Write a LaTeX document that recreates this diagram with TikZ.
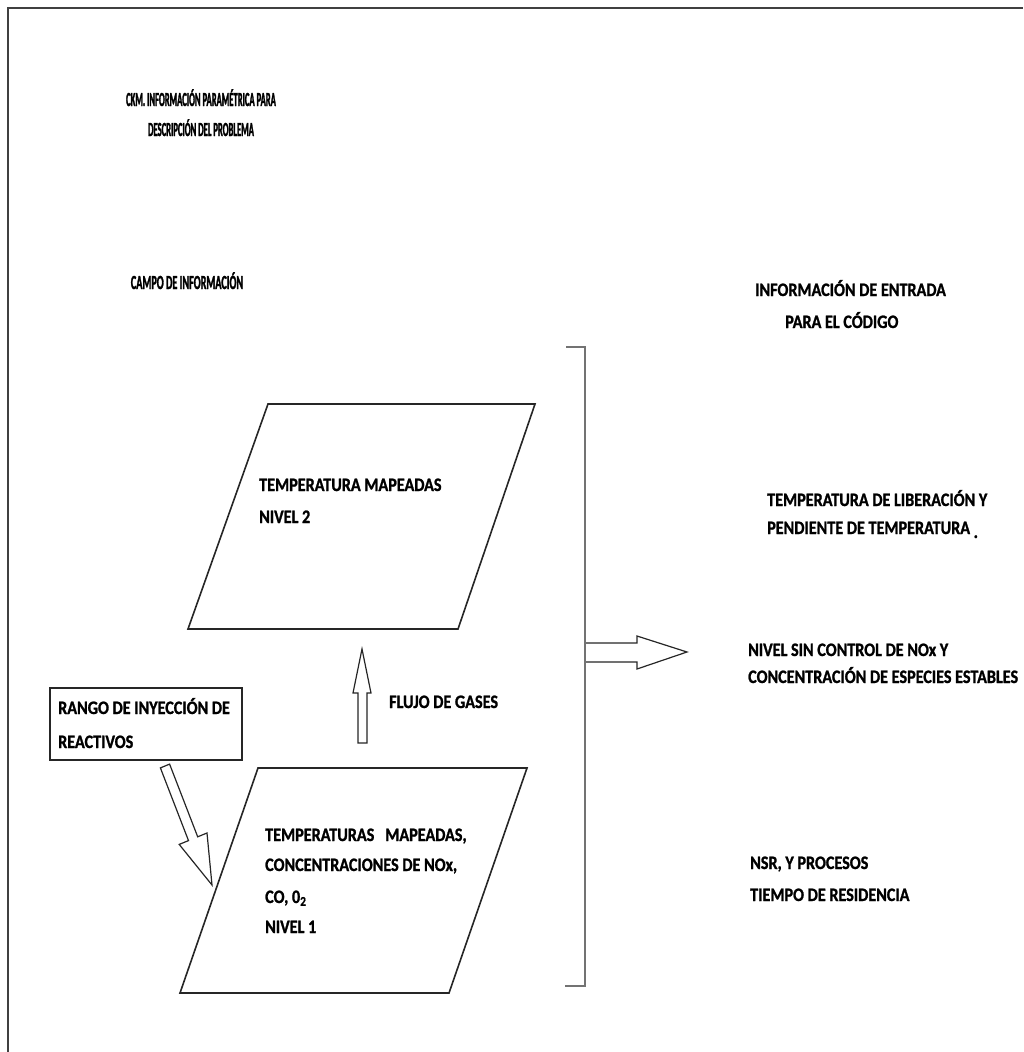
\documentclass[tikz,border=0pt]{standalone}
\usepackage{fontspec}
\newfontfamily\cfa{Carlito}[FakeStretch=0.85, BoldFeatures={FakeBold=1.2}]
\newfontfamily\cft{Carlito}[FakeStretch=0.43, BoldFeatures={FakeBold=1.4}]
\newfontfamily\cfc{Carlito}[FakeStretch=0.51, BoldFeatures={FakeBold=1.4}]
\usetikzlibrary{calc}
\tikzset{
  txt/.style={font=\cfa\bfseries\fontsize{19}{21}\selectfont, inner sep=0pt, anchor=base west, text=black},
  ttl/.style={font=\cft\bfseries\fontsize{20}{22}\selectfont, inner sep=0pt, anchor=base, text=black},
  ttlc/.style={font=\cfc\bfseries\fontsize{20}{22}\selectfont, inner sep=0pt, anchor=base, text=black},
  frame/.style={draw=black!75, line width=2.2pt},
  para/.style={draw=black!85, line width=1.6pt, line join=miter},
  brk/.style={draw=black!55, line width=2.2pt},
  blk/.style={draw=black!85, line width=1.2pt, fill=white, line join=miter},
  rbox/.style={draw=black!85, line width=1.6pt}
}
\begin{document}
\begin{tikzpicture}[x=1pt,y=-1pt]
\useasboundingbox (0,0) rectangle (1023,1052);
% frame (top and left)
\draw[frame] (8,1052) -- (8,8) -- (1023,8);
% titles
\node[ttl] (t1) at (201,106) {CKM. INFORMACIÓN PARAMÉTRICA PARA};
\node[ttl] (t2) at (201,136) {DESCRIPCIÓN DEL PROBLEMA};
\node[ttlc] (campo) at (187,289) {CAMPO DE INFORMACIÓN};
% right side
\node[txt] (ie1) at (755,296) {INFORMACIÓN DE ENTRADA};
\node[txt] (ie2) at (785,328) {PARA EL CÓDIGO};
\node[txt] (tl1) at (767,506) {TEMPERATURA DE LIBERACIÓN Y};
\node[txt] (tl2) at (767,534) {PENDIENTE DE TEMPERATURA \raisebox{-4pt}{.}};
\node[txt] (ns1) at (748,656) {NIVEL SIN CONTROL DE NOx Y};
\node[txt] (ns2) at (748,683) {CONCENTRACIÓN DE ESPECIES ESTABLES};
\node[txt] (nr1) at (750,869) {NSR, Y PROCESOS};
\node[txt] (nr2) at (750,901) {TIEMPO DE RESIDENCIA};
% bracket
\draw[brk] (566,347) -- (585,347) -- (585,986) -- (565,986);
% top parallelogram
\coordinate (p2a) at (268,404);
\coordinate (p2b) at (535,404);
\coordinate (p2c) at (458,629);
\coordinate (p2d) at (188,629);
\draw[para] (p2a) -- (p2b) -- (p2c) -- (p2d) -- cycle;
\node[txt] (n2a) at (259,491) {TEMPERATURA MAPEADAS};
\node[txt] (n2b) at (259,523) {NIVEL 2};
% bottom parallelogram
\coordinate (p1a) at (258,768);
\coordinate (p1b) at (527,768);
\coordinate (p1c) at (449,993);
\coordinate (p1d) at (180,993);
\draw[para] (p1a) -- (p1b) -- (p1c) -- (p1d) -- cycle;
\node[txt] (n1a) at (265,841) {TEMPERATURAS\ \ \ MAPEADAS,};
\node[txt] (n1b) at (265,871) {CONCENTRACIONES DE NOx,};
\node[txt] (n1c) at (265,903) {CO, 0\textsubscript{2}};
\node[txt] (n1d) at (265,933) {NIVEL 1};
% rango box
\draw[rbox] (50,688) rectangle (242,760);
\node[txt] (r1) at (58,714) {RANGO DE INYECCIÓN DE};
\node[txt] (r2) at (58,748) {REACTIVOS};
% flujo
\node[txt] (fl) at (389,708) {FLUJO DE GASES};
% up arrow
\draw[blk] (358,743) -- (358,693) -- (353,693) -- (362,649) -- (371,693) -- (367,693) -- (367,743) -- cycle;
% right arrow
\draw[blk] (586,643) -- (637,643) -- (637,636) -- (687,652) -- (637,669) -- (637,662) -- (586,662);
% diagonal arrow
\draw[blk] (160.4,767.9) -- (188.5,840.6) -- (179.2,844.4) -- (212,885) -- (207,833) -- (197.7,836.8) -- (169.6,764.1) -- cycle;
\end{tikzpicture}
\end{document}
